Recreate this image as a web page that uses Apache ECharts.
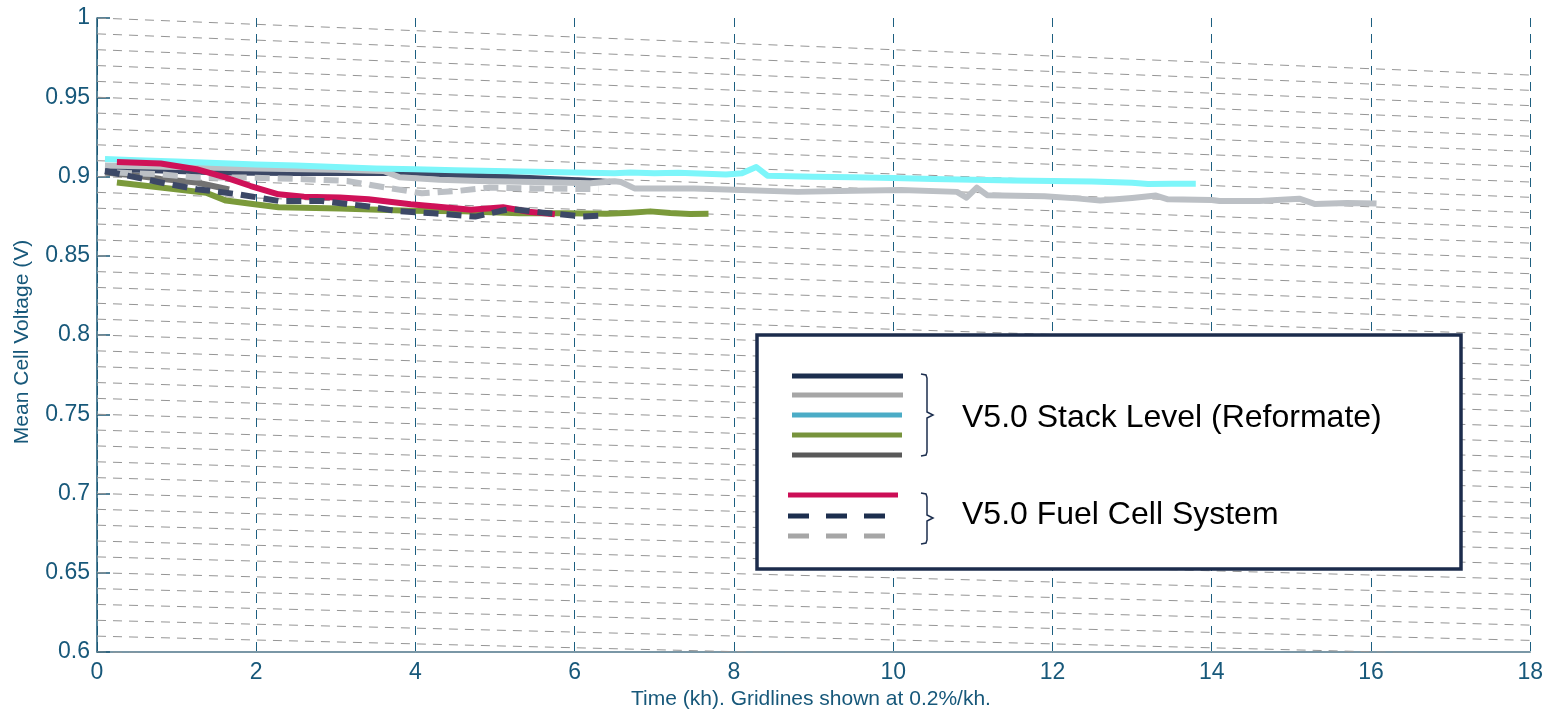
<!DOCTYPE html>
<html><head><meta charset="utf-8">
<script src="https://cdn.jsdelivr.net/npm/echarts@6/dist/echarts.min.js"></script>
<style>html,body{margin:0;padding:0;background:#fff}#c{width:1546px;height:713px}</style>
</head><body><div id="c"></div>
<script>
// ---- Data (time in kh, mean cell voltage in V) ----
const stackNavy = [[0.1,0.905],[0.8,0.9038],[1.6,0.9025],[2.5,0.9022],[3.6,0.9022],[3.95,0.9025],[4.5,0.901],[4.85,0.9003],[5.3,0.8993],[5.75,0.8983],[6.1,0.8975],[6.45,0.8966]];
const stackGray = [[0.1,0.907],[1.0,0.906],[2.0,0.905],[3.0,0.9042],[3.6,0.9035],[3.8,0.8995],[4.3,0.898],[4.8,0.8972],[5.5,0.8965],[6.2,0.8958],[6.5,0.897],[6.58,0.8965],[6.75,0.8925],[7.5,0.8925],[8.1,0.8915],[8.8,0.8903],[9.5,0.891],[10.1,0.8915],[10.8,0.8903],[10.92,0.8867],[11.05,0.893],[11.18,0.8882],[11.9,0.8876],[12.3,0.8862],[12.6,0.8848],[13.0,0.8865],[13.3,0.888],[13.45,0.8856],[14.0,0.8852],[14.1,0.8845],[14.6,0.8845],[15.1,0.886],[15.3,0.8826],[15.7,0.8833],[16.07,0.8829]];
const stackCyan = [[0.1,0.911],[0.5,0.9102],[1.0,0.9095],[1.5,0.9085],[2.0,0.9075],[2.5,0.907],[3.0,0.906],[3.5,0.905],[4.0,0.9045],[4.5,0.904],[5.0,0.9035],[5.5,0.903],[6.0,0.9025],[6.5,0.902],[6.7,0.9025],[7.0,0.902],[7.3,0.9023],[7.9,0.9013],[8.1,0.902],[8.28,0.906],[8.42,0.9005],[9.0,0.8998],[9.5,0.8995],[10.0,0.899],[10.5,0.8985],[11.0,0.898],[11.5,0.8975],[12.0,0.8972],[12.5,0.8968],[13.0,0.896],[13.2,0.8952],[13.5,0.8955],[13.8,0.8955]];
const stackGreen = [[0.25,0.8962],[0.8,0.893],[1.37,0.8898],[1.62,0.8848],[1.93,0.8828],[2.28,0.8806],[3.05,0.8798],[3.94,0.8784],[4.6,0.878],[5.3,0.8768],[5.9,0.8768],[6.4,0.8765],[6.7,0.8772],[6.95,0.878],[7.2,0.877],[7.45,0.8763],[7.68,0.8765]];
const stackDarkGray = [[0.1,0.9025],[0.45,0.9008],[0.8,0.8985],[1.25,0.8962],[1.66,0.8918]];
const fcsCrimson = [[0.25,0.9092],[0.8,0.9082],[1.25,0.9046],[1.62,0.8993],[1.93,0.894],[2.28,0.8888],[2.6,0.8873],[3.05,0.8867],[3.41,0.8856],[3.94,0.8825],[4.39,0.8804],[4.7,0.879],[5.1,0.8806],[5.42,0.8778],[5.75,0.8762]];
const fcsNavyDash = [[0.1,0.9035],[0.8,0.8962],[1.25,0.892],[1.77,0.8888],[2.28,0.8846],[2.82,0.8846],[3.36,0.8814],[3.77,0.8782],[4.22,0.8768],[4.75,0.8747],[5.06,0.8782],[5.2,0.8795],[5.6,0.8772],[6.1,0.8748],[6.3,0.8752]];
const fcsGrayDash = [[0.25,0.9025],[0.8,0.9014],[1.25,0.8993],[1.93,0.8993],[2.6,0.8983],[3.14,0.8972],[3.63,0.893],[4.08,0.8894],[4.53,0.8909],[4.93,0.893],[5.5,0.8925],[6.3,0.892]];

// Degradation gridlines: start voltages at t=0, slope 0.2 %/kh
const gridStarts = [0.60,0.61,0.62,0.63,0.64,0.65,0.66,0.67,0.68,0.69,0.70,0.71,0.72,0.73,0.74,0.75,0.76,0.77,0.78,0.79,0.80,0.81,0.82,0.83,0.84,0.85,0.86,0.87,0.88,0.89,0.90,0.91,0.92,0.93,0.94,0.95,0.96,0.97,0.98,0.99,1.00];
const gridRatePerKh = 0.002;
const xMin = 0, xMax = 18, xStep = 2;
const yMin = 0.6, yMax = 1.0, yStep = 0.05;

const legendStackLabel = 'V5.0 Stack Level (Reformate)';
const legendFcsLabel = 'V5.0 Fuel Cell System';
const xTitle = 'Time (kh). Gridlines shown at 0.2%/kh.';
const yTitle = 'Mean Cell Voltage (V)';

const FONT = '"Liberation Sans", Arial, sans-serif';
const TEAL = '#17587a';

const gridSeries = gridStarts.map(v0 => ({
  type: 'line', silent: true, symbol: 'none', animation: false,
  data: [[xMin, v0], [xMax, v0 * (1 - gridRatePerKh * xMax)]],
  lineStyle: { color: '#959595', width: 1, type: [9, 7] },
  z: 1
}));

function dataLine(d, color, dashed) {
  return {
    type: 'line', symbol: 'none', animation: false, data: d,
    lineStyle: { color: color, width: 6, type: dashed ? [15, 8] : 'solid', cap: 'butt', join: 'round' },
    z: 3
  };
}

const series = gridSeries.concat([
  dataLine(stackGreen, '#7b9a3b', false),
  dataLine(stackDarkGray, '#727272', false),
  dataLine(stackNavy, '#3c4866', false),
  dataLine(stackGray, '#bcc0c5', false),
  dataLine(stackCyan, '#7df6fa', false),
  dataLine(fcsGrayDash, '#bcc0c5', true),
  dataLine(fcsCrimson, '#cf1158', false),
  dataLine(fcsNavyDash, '#3c4866', true)
]);

const LN = '#1c2c4c';
const legendGraphics = [
  { type: 'rect', shape: { x: 757, y: 335, width: 704, height: 234 }, style: { fill: '#fff', stroke: LN, lineWidth: 3.5 }, z: 100 },
  { type: 'line', shape: { x1: 792, y1: 376, x2: 903, y2: 376 }, style: { stroke: '#1c2e4e', lineWidth: 5 }, z: 101 },
  { type: 'line', shape: { x1: 792, y1: 395, x2: 903, y2: 395 }, style: { stroke: '#a6a6a6', lineWidth: 5 }, z: 101 },
  { type: 'line', shape: { x1: 792, y1: 415, x2: 902, y2: 415 }, style: { stroke: '#4bacc6', lineWidth: 5 }, z: 101 },
  { type: 'line', shape: { x1: 792, y1: 435, x2: 902, y2: 435 }, style: { stroke: '#77933c', lineWidth: 5 }, z: 101 },
  { type: 'line', shape: { x1: 792, y1: 455, x2: 902, y2: 455 }, style: { stroke: '#595959', lineWidth: 5 }, z: 101 },
  { type: 'line', shape: { x1: 788, y1: 495, x2: 898, y2: 495 }, style: { stroke: '#cc0e56', lineWidth: 5 }, z: 101 },
  { type: 'line', shape: { x1: 788, y1: 516, x2: 886, y2: 516 }, style: { stroke: '#1c2e4e', lineWidth: 5, lineDash: [21, 17] }, z: 101 },
  { type: 'line', shape: { x1: 788, y1: 536, x2: 886, y2: 536 }, style: { stroke: '#a6a6a6', lineWidth: 5, lineDash: [21, 17] }, z: 101 },
  { type: 'polyline', shape: { points: [[921,374],[926,375],[927,378],[927,412],[933,415],[927,418],[927,452],[926,455],[921,456]] }, style: { stroke: '#1c2e4e', lineWidth: 1.5, fill: null }, z: 101 },
  { type: 'polyline', shape: { points: [[921,493],[926,494],[927,497],[927,515],[933,518],[927,521],[927,540],[926,543],[921,544]] }, style: { stroke: '#1c2e4e', lineWidth: 1.5, fill: null }, z: 101 },
  { type: 'text', x: 962, y: 418, style: { text: legendStackLabel, fill: '#000', fontSize: 32, fontFamily: FONT, align: 'left', verticalAlign: 'middle' }, z: 101 },
  { type: 'text', x: 962, y: 515, style: { text: legendFcsLabel, fill: '#000', fontSize: 32, fontFamily: FONT, align: 'left', verticalAlign: 'middle' }, z: 101 },
  { type: 'text', x: 22, y: 342, rotation: Math.PI / 2, style: { text: yTitle, fill: TEAL, fontSize: 21, fontFamily: FONT, align: 'center', verticalAlign: 'middle' }, z: 101 },
  { type: 'text', x: 811, y: 699, style: { text: xTitle, fill: TEAL, fontSize: 21, fontFamily: FONT, align: 'center', verticalAlign: 'middle' }, z: 101 }
];

const chart = echarts.init(document.getElementById('c'), null, { renderer: 'canvas' });
chart.setOption({
  backgroundColor: '#fff',
  animation: false,
  grid: { left: 97, right: 14, top: 18, bottom: 61 },
  xAxis: {
    type: 'value', min: xMin, max: xMax, interval: xStep,
    axisLine: { show: true, lineStyle: { color: '#4f7689', width: 1.5 } },
    axisTick: { show: false },
    axisLabel: { color: TEAL, fontSize: 23, fontFamily: FONT, margin: 9 },
    splitLine: { show: true, lineStyle: { color: '#1d5f80', width: 1, type: [9, 7] } }
  },
  yAxis: {
    type: 'value', min: yMin, max: yMax, interval: yStep,
    axisLine: { show: true, lineStyle: { color: '#1b5876', width: 1.5 } },
    axisTick: { show: true, inside: true, length: 13, lineStyle: { color: '#1b5876', width: 1.5 } },
    axisLabel: { color: TEAL, fontSize: 23, fontFamily: FONT, margin: 7 },
    splitLine: { show: false }
  },
  series: series,
  graphic: legendGraphics
});
</script>
</body></html>
